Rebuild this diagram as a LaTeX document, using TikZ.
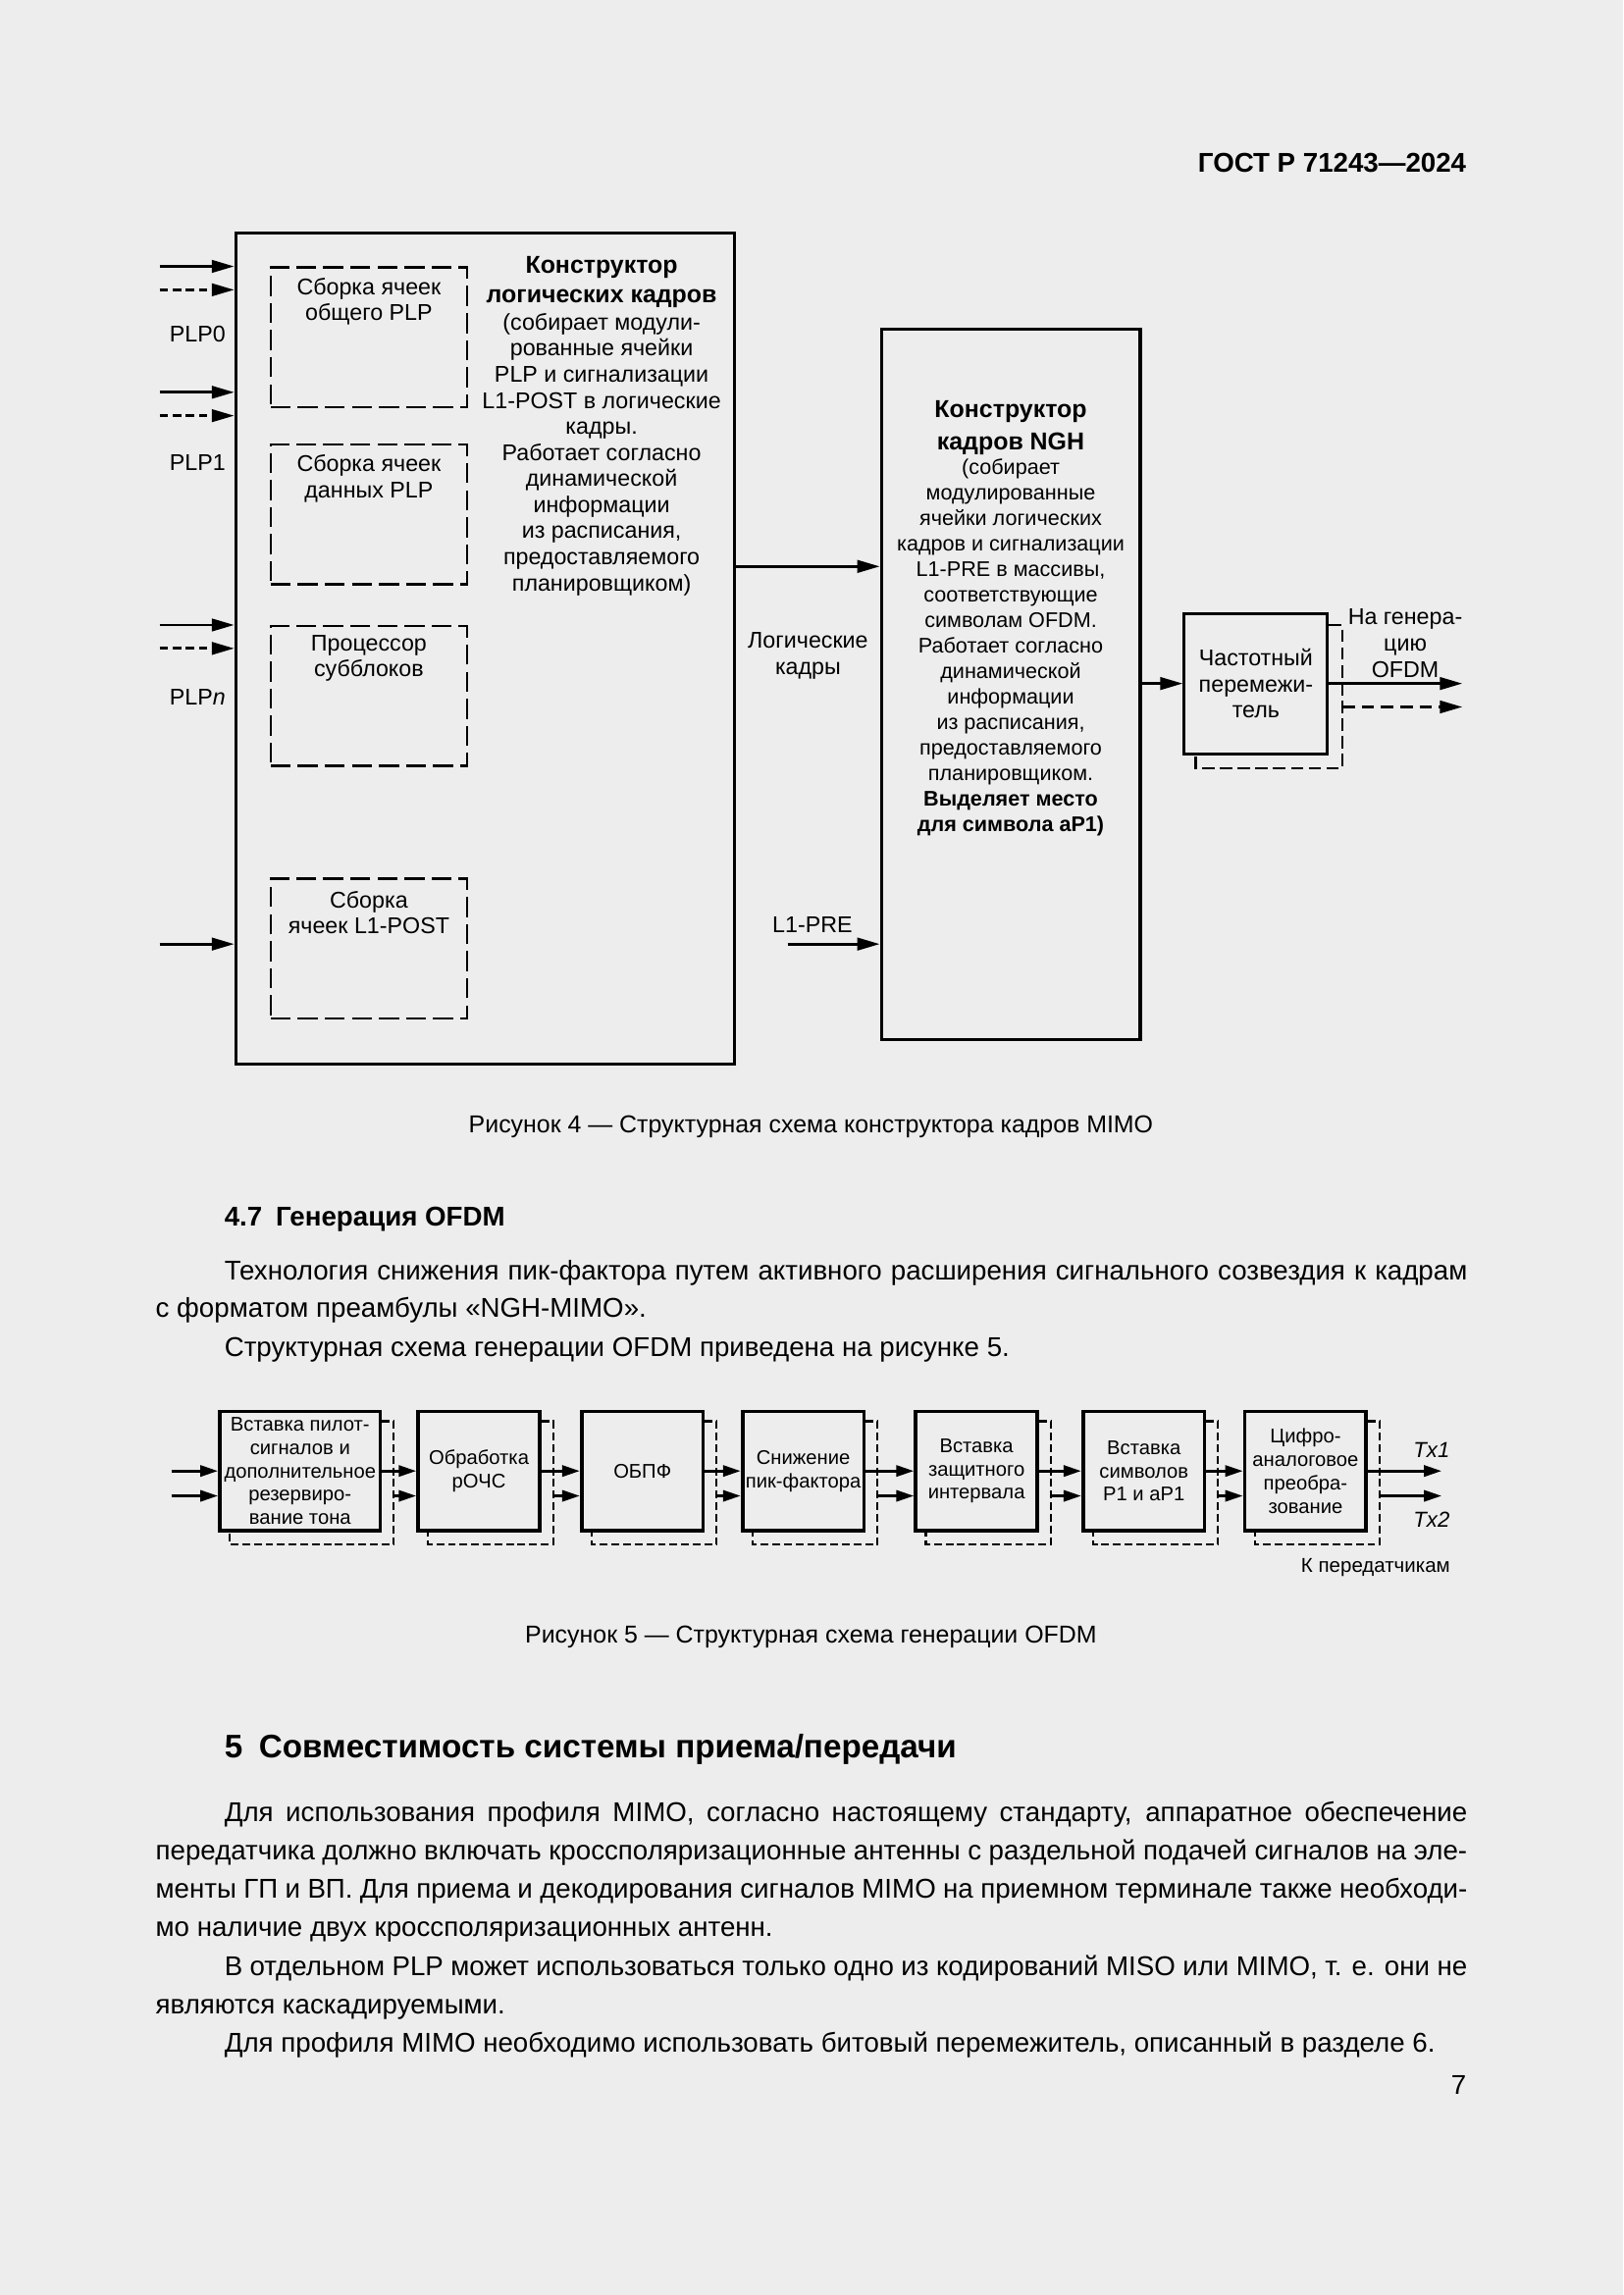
\documentclass[tikz,border=0pt]{standalone}
\usepackage{fontspec}
\setmainfont{Liberation Sans}
\usetikzlibrary{arrows.meta, positioning, calc}
\definecolor{pagebg}{RGB}{237,237,237}
\DeclareRobustCommand{\jline}[2]{\makebox[#1][s]{#2}}
\DeclareRobustCommand{\ttl}{\bfseries\fontsize{9}{9.6}\selectfont}

\begin{document}
\begin{tikzpicture}[
    x=0.18936mm, y=-0.18936mm,
    txt/.style={inner sep=0pt, text height=7.2pt, text depth=1pt, font=\fontsize{10}{14}\selectfont},
    figcap/.style={inner sep=0pt, text height=6.5pt, text depth=0.9pt, font=\fontsize{9}{12}\selectfont},
    lbl/.style={inner sep=0pt, align=center, font=\fontsize{8.4}{9.6}\selectfont},
    bigbox/.style={draw, line width=1.1pt, inner sep=0pt},
    subbox/.style={draw, line width=0.9pt, dash pattern=on 2.6mm off 0.9mm, minimum width=25.4mm, minimum height=18.1mm, inner sep=0pt},
    arr/.style={-{Triangle[length=2.9mm, width=1.6mm]}, line width=1pt},
    darr/.style={arr, dash pattern=on 1.1mm off 0.6mm},
    blk/.style={draw, line width=1.3pt, minimum width=15.7mm, minimum height=15.44mm, inner sep=0pt, align=center, font=\fontsize{7.3}{8.6}\selectfont},
    shd/.style={line width=0.8pt, dash pattern=on 1mm off 0.5mm},
    sarr/.style={-{Triangle[length=2.3mm, width=1.4mm]}, line width=1.2pt}
]
\fill[pagebg] (0,0) rectangle (1109,1568);
\useasboundingbox (0,0) rectangle (1109,1568);

\node[txt, anchor=east, font=\bfseries\fontsize{10}{14}\selectfont] (hdr) at (1002,112) {ГОСТ Р 71243—2024};

% Рисунок 4
\node[bigbox, minimum width=64.56mm, minimum height=107.55mm] (lfb) at (331.5,443) {};
\node[bigbox, minimum width=33.5mm, minimum height=91.83mm] (ngh) at (690.5,467.5) {};
\node[bigbox, minimum width=18.55mm, minimum height=18.17mm, align=center, font=\fontsize{8.4}{9.6}\selectfont] (fi) at (858,467) {Частотный\\перемежи-\\тель};

\node[subbox] (sb0) at (252,230.5) {};
\node[subbox] (sb1) at (252,351.5) {};
\node[subbox] (sb2) at (252,475.5) {};
\node[subbox] (sb3) at (252,648) {};
\node[lbl] (sb0t) at ($(sb0.north)+(0,24)$) {Сборка ячеек\\общего PLP};
\node[lbl] (sb1t) at ($(sb1.north)+(0,24)$) {Сборка ячеек\\данных PLP};
\node[lbl] (sb2t) at ($(sb2.north)+(0,23)$) {Процессор\\субблоков};
\node[lbl] (sb3t) at ($(sb3.north)+(0,24)$) {Сборка\\ячеек L1-POST};

\node[lbl] (lfbt) at (411,291) {{\ttl Конструктор}\\[1.1pt]
  {\ttl логических кадров}\\[0.6pt]
  (собирает модули-\\рованные ячейки\\PLP и сигнализации\\L1-POST в логические\\кадры.\\
  Работает согласно\\динамической\\информации\\из расписания,\\предоставляемого\\планировщиком)};
\node[lbl, font=\fontsize{7.8}{9.4}\selectfont] (nght) at (690.5,422.5) {{\ttl Конструктор}\\[2.4pt]
  {\ttl кадров NGH}\\[-0.3pt]
  (собирает\\модулированные\\ячейки логических\\кадров и сигнализации\\L1-PRE в массивы,\\соответствующие\\
  символам OFDM.\\Работает согласно\\динамической\\информации\\из расписания,\\предоставляемого\\планировщиком.\\
  \textbf{Выделяет место}\\\textbf{для символа aP1)}};

\node[lbl] (plp0) at (135,228) {PLP0};
\node[lbl] (plp1) at (135,316) {PLP1};
\node[lbl] (plpn) at (135,476) {PLP\textit{n}};
\node[lbl] (lkt) at (552,448) {Логические\\кадры};
\node[lbl] (pret) at (555,632) {L1-PRE};
\node[lbl] (ofdmt) at (960,439.5) {На генера-\\цию\\OFDM};

\coordinate (i0a) at (109,182);
\coordinate (i0b) at (109,198);
\coordinate (i1a) at (109,268);
\coordinate (i1b) at (109,284);
\coordinate (ina) at (109,427);
\coordinate (inb) at (109,443);
\coordinate (ipost) at (109,645);
\foreach \c in {i0a,i1a,ina,ipost} \draw[arr] (\c) -- (\c -| lfb.west);
\foreach \c in {i0b,i1b,inb} \draw[darr] (\c) -- (\c -| lfb.west);

\coordinate (lk) at (0,387);
\draw[arr] (lfb.east |- lk) -- (ngh.west |- lk);
\coordinate (pre) at (538,645);
\draw[arr] (pre) -- (pre -| ngh.west);
\draw[arr] (ngh.east |- fi.west) -- (fi.west);
\draw[line width=0.9pt, dash pattern=on 1.6mm off 0.7mm] ($(fi.north east)+(0,9)$) -- ++(9,0) |- ($(fi.south west)+(9,9)$) -- ++(0,-9);
\coordinate (o1) at (999,467);
\coordinate (o2) at (999,483);
\draw[arr] (fi.east) -- (o1);
\draw[arr, dash pattern=on 1.6mm off 0.9mm] ($(fi.east)+(9,16)$) -- (o2);

\node[figcap] (cap4) at (554,769) {Рисунок 4 — Структурная схема конструктора кадров MIMO};

% текст 4.7
\node[txt, anchor=west, font=\bfseries\fontsize{10}{14}\selectfont] (h47) at (153,832) {4.7\hspace{0.5em}Генерация OFDM};
\node[txt, anchor=west] (t1) at (153,869) {\jline{160.77mm}{Технология снижения пик-фактора путем активного расширения сигнального созвездия к кадрам}};
\node[txt, anchor=west] (t2) at (106,894) {с форматом преамбулы «NGH-MIMO».};
\node[txt, anchor=west] (t3) at (153,921) {Структурная схема генерации OFDM приведена на рисунке 5.};

% Рисунок 5
\node[blk, minimum width=20.75mm] (b1) at (205,1005) {Вставка пилот-\\сигналов и\\дополнительное\\резервиро-\\вание тона};
\node[blk, right=4.45mm of b1] (b2) {Обработка\\рОЧС};
\node[blk, right=5mm of b2] (b3) {ОБПФ};
\node[blk, right=4.65mm of b3] (b4) {Снижение\\пик-фактора};
\node[blk, right=6.25mm of b4] (b5) {Вставка\\защитного\\интервала};
\node[blk, right=5.5mm of b5] (b6) {Вставка\\символов\\P1 и aP1};
\node[blk, right=4.75mm of b6] (b7) {Цифро-\\аналоговое\\преобра-\\зование};

\foreach \p in {b1,b2,b3,b4,b5,b6,b7}
  \draw[shd] ($(\p.north east)+(0,8)$) -- ++(8,0) |- ($(\p.south west)+(8,8)$) -- ++(0,-8);

\coordinate (ia) at (117,1005);
\coordinate (ib) at (117,1022);
\draw[sarr] (ia) -- (b1.west);
\draw[sarr] (ib) -- (ib -| b1.west);
\foreach \p/\q in {b1/b2,b2/b3,b3/b4,b4/b5,b5/b6,b6/b7} {
  \draw[sarr] (\p.east) -- (\q.west);
  \draw[sarr] ($(\p.east)+(8,17)$) -- ($(\q.west)+(0,17)$);
}
\coordinate (tx1) at (985,1005);
\coordinate (tx2) at (985,1022);
\draw[sarr] (b7.east) -- (tx1);
\draw[sarr] ($(b7.east)+(8,17)$) -- (tx2);
\node[lbl, font=\itshape\fontsize{8}{9.6}\selectfont] (tx1t) at (978,991) {Tx1};
\node[lbl, font=\itshape\fontsize{8}{9.6}\selectfont] (tx2t) at (978,1038) {Tx2};
\node[lbl, anchor=east, font=\fontsize{7.4}{9}\selectfont] (kpt) at (991,1071) {К передатчикам};

\node[figcap] (cap5) at (554,1117) {Рисунок 5 — Структурная схема генерации OFDM};

% раздел 5
\node[txt, anchor=west, text height=8.6pt, text depth=1.2pt, font=\bfseries\fontsize{12}{14}\selectfont] (h5) at (153,1194) {5\hspace{0.5em}Совместимость системы приема/передачи};
\node[txt, anchor=west] (s1) at (153,1239) {\jline{160.77mm}{Для использования профиля MIMO, согласно настоящему стандарту, аппаратное обеспечение}};
\node[txt, anchor=west] (s2) at (106,1265) {\jline{169.67mm}{передатчика должно включать кроссполяризационные антенны с раздельной подачей сигналов на эле-}};
\node[txt, anchor=west] (s3) at (106,1291) {\jline{169.67mm}{менты ГП и ВП. Для приема и декодирования сигналов MIMO на приемном терминале также необходи-}};
\node[txt, anchor=west] (s4) at (106,1317) {мо наличие двух кроссполяризационных антенн.};
\node[txt, anchor=west] (s5) at (153,1344) {\jline{160.77mm}{В отдельном PLP может использоваться только одно из кодирований MISO или MIMO, т. е. они не}};
\node[txt, anchor=west] (s6) at (106,1370) {являются каскадируемыми.};
\node[txt, anchor=west] (s7) at (153,1396) {Для профиля MIMO необходимо использовать битовый перемежитель, описанный в разделе 6.};
\node[txt, anchor=east] (pgn) at (1002,1425) {7};
\end{tikzpicture}
\end{document}
